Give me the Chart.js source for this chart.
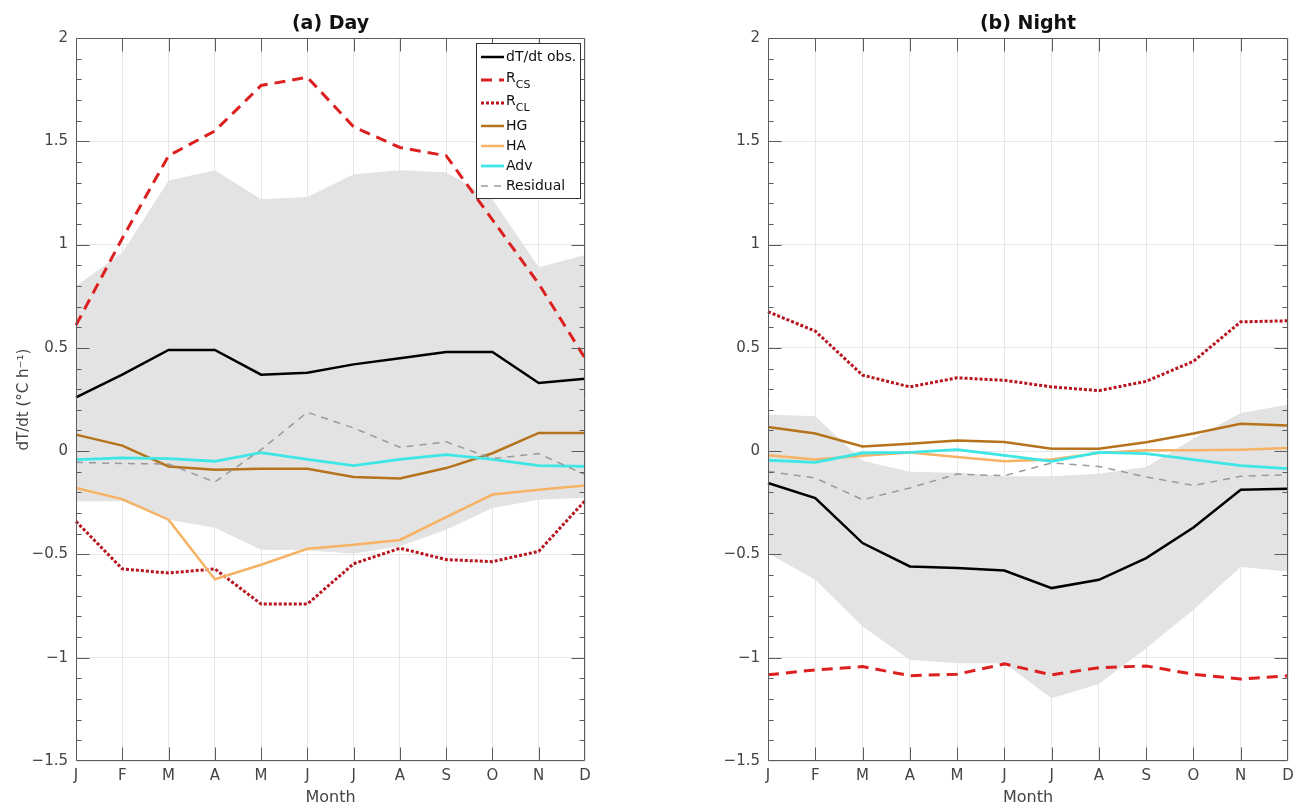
<!DOCTYPE html>
<html>
<head>
<meta charset="utf-8">
<script src="https://cdn.jsdelivr.net/npm/chart.js@4.4.1/dist/chart.umd.min.js"></script>
<style>
  html, body { margin:0; padding:0; background:#fff; }
  #wrap { position:relative; width:1311px; height:811px; overflow:hidden; }
  .cv { position:absolute; top:0; }
</style>
</head>
<body>
<div id="wrap">
  <div class="cv" style="left:0;width:600px;height:811px;"><canvas id="c1"></canvas></div>
  <div class="cv" style="left:700px;width:611px;height:811px;"><canvas id="c2"></canvas></div>
</div>
<script>
// ---------- data ----------
const months = ['J','F','M','A','M','J','J','A','S','O','N','D'];
const yMin = -1.5, yMax = 2, yStep = 0.5;

const dayObs   = [0.26,0.37,0.49,0.49,0.37,0.38,0.42,0.45,0.48,0.48,0.33,0.35];
const dayRcs   = [0.61,1.03,1.43,1.55,1.77,1.81,1.57,1.47,1.43,1.12,0.81,0.45];
const dayRcl   = [-0.34,-0.57,-0.59,-0.57,-0.74,-0.74,-0.545,-0.47,-0.525,-0.535,-0.485,-0.24];
const dayHG    = [0.08,0.027,-0.074,-0.09,-0.085,-0.085,-0.125,-0.132,-0.082,-0.01,0.088,0.088];
const dayHA    = [-0.178,-0.232,-0.332,-0.62,-0.55,-0.473,-0.453,-0.43,-0.32,-0.21,-0.187,-0.166];
const dayAdv   = [-0.041,-0.033,-0.036,-0.049,-0.007,-0.04,-0.07,-0.04,-0.017,-0.04,-0.07,-0.074];
const dayRes   = [-0.054,-0.06,-0.062,-0.15,0.007,0.188,0.112,0.019,0.045,-0.036,-0.012,-0.114];
const dayBandHi = [0.8,0.96,1.31,1.36,1.22,1.23,1.34,1.36,1.35,1.22,0.89,0.95];
const dayBandLo = [-0.243,-0.243,-0.332,-0.371,-0.477,-0.48,-0.497,-0.46,-0.38,-0.275,-0.235,-0.226];

const nightObs   = [-0.154,-0.227,-0.445,-0.558,-0.566,-0.578,-0.663,-0.623,-0.518,-0.37,-0.187,-0.182];
const nightRcs   = [-1.083,-1.059,-1.043,-1.087,-1.08,-1.03,-1.083,-1.048,-1.04,-1.08,-1.103,-1.087];
const nightRcl   = [0.675,0.581,0.368,0.311,0.355,0.343,0.311,0.293,0.338,0.435,0.626,0.631];
const nightHG    = [0.117,0.085,0.023,0.036,0.051,0.044,0.012,0.012,0.043,0.085,0.133,0.124];
const nightHA    = [-0.02,-0.041,-0.022,-0.006,-0.028,-0.049,-0.041,-0.009,0.004,0.004,0.007,0.015];
const nightAdv   = [-0.044,-0.054,-0.009,-0.006,0.007,-0.02,-0.049,-0.006,-0.012,-0.041,-0.07,-0.085];
const nightRes   = [-0.098,-0.13,-0.235,-0.178,-0.111,-0.119,-0.057,-0.074,-0.125,-0.166,-0.122,-0.114];
const nightBandHi = [0.177,0.169,-0.047,-0.1,-0.104,-0.122,-0.122,-0.109,-0.077,0.06,0.185,0.225];
const nightBandLo = [-0.494,-0.623,-0.849,-1.01,-1.027,-1.027,-1.196,-1.127,-0.954,-0.768,-0.561,-0.583];

// ---------- styles ----------
const FONT = "'DejaVu Sans', sans-serif";
const S = {
  obs: {label:'dT/dt obs.', color:'#000000', width:2.5, dash:[]},
  rcs: {label:'R', sub:'CS', color:'#dc1f1f', width:3, dash:[11,7]},
  rcl: {label:'R', sub:'CL', color:'#b8141e', width:3, dash:[3,2]},
  hg:  {label:'HG', color:'#b5731c', width:2.5, dash:[]},
  ha:  {label:'HA', color:'#f6b265', width:2.5, dash:[]},
  adv: {label:'Adv', color:'#3fe6e6', width:2.8, dash:[]},
  res: {label:'Residual', color:'#9a9a9a', width:1.5, dash:[7,6]}
};
const legendOrder = ['obs','rcs','rcl','hg','ha','adv','res'];

function line(key, data) {
  const s = S[key];
  return {label: key, data, borderColor: s.color, borderWidth: s.width, borderDash: s.dash,
          pointRadius:0, fill:false, tension:0, borderCapStyle:'butt', borderJoinStyle:'miter'};
}
function band(hi, lo) {
  return [
    {label:'bandHi', data:hi, borderWidth:0, borderColor:'rgba(0,0,0,0)', backgroundColor:'#e3e3e3', pointRadius:0, fill:'+1', tension:0},
    {label:'bandLo', data:lo, borderWidth:0, borderColor:'rgba(0,0,0,0)', backgroundColor:'#e3e3e3', pointRadius:0, fill:false, tension:0}
  ];
}

function fmt(v) {
  const r = Math.round(v*10)/10;
  if (Math.abs(r) < 1e-9) return '0';
  return (r < 0 ? '\u2212' : '') + String(Math.abs(r));
}

const framePlugin = {
  id: 'frame',
  afterDraw(chart, args, opts) {
    const {ctx, chartArea:a, scales} = chart;
    const x = scales.x, y = scales.y;
    ctx.save();
    // title
    ctx.fillStyle = '#111';
    ctx.font = 'bold 19px ' + FONT;
    ctx.textAlign = 'center'; ctx.textBaseline = 'alphabetic';
    ctx.fillText(opts.title, (a.left + a.right)/2, 29);
    // box
    ctx.strokeStyle = '#5c5c5c'; ctx.lineWidth = 1;
    const L = Math.round(a.left)+0.5, R = Math.round(a.right)-0.5, T = Math.round(a.top)+0.5, B = Math.round(a.bottom)-0.5;
    ctx.beginPath();
    ctx.moveTo(L,T); ctx.lineTo(R,T); ctx.lineTo(R,B); ctx.lineTo(L,B); ctx.closePath();
    ctx.stroke();
    // x ticks (inward, top and bottom)
    ctx.beginPath();
    for (let i = 1; i < months.length-1; i++) {
      const px = Math.round(x.getPixelForValue(i)) + 0.5;
      ctx.moveTo(px, B); ctx.lineTo(px, B-13);
      ctx.moveTo(px, T); ctx.lineTo(px, T+13);
    }
    // y ticks major + minor
    for (let k = 1; k < 35; k++) {
      const v = yMin + k*0.1;
      const py = Math.round(y.getPixelForValue(v)) + 0.5;
      const len = (k % 5 === 0) ? 13 : 5;
      ctx.moveTo(L, py); ctx.lineTo(L+len, py);
      ctx.moveTo(R, py); ctx.lineTo(R-len, py);
    }
    ctx.stroke();
    // legend
    if (opts.legend) {
      const bx = 476.5, by = 43.5, bw = 104, bh = 155;
      ctx.fillStyle = '#fff';
      ctx.fillRect(bx, by, bw, bh);
      ctx.strokeStyle = '#333'; ctx.lineWidth = 1;
      ctx.strokeRect(bx, by, bw, bh);
      const rows = [57, 80, 103, 126, 146, 166, 186];
      legendOrder.forEach((key, i) => {
        const s = S[key];
        const ry = rows[i];
        ctx.save();
        ctx.strokeStyle = s.color; ctx.lineWidth = s.width; ctx.setLineDash(s.dash);
        ctx.beginPath(); ctx.moveTo(481, ry); ctx.lineTo(504, ry); ctx.stroke();
        ctx.restore();
        ctx.fillStyle = '#111';
        ctx.font = '14px ' + FONT;
        ctx.textAlign = 'left'; ctx.textBaseline = 'middle';
        ctx.fillText(s.label, 506, ry - (s.sub ? 2 : 0));
        if (s.sub) {
          const w = ctx.measureText(s.label).width;
          ctx.font = '11px ' + FONT;
          ctx.fillText(s.sub, 506 + w, ry + 5);
        }
      });
    }
    ctx.restore();
  }
};

function makeChart(id, datasets, opts) {
  return new Chart(document.getElementById(id), {
    type: 'line',
    data: { labels: months, datasets },
    plugins: [framePlugin],
    options: {
      responsive: true, maintainAspectRatio: false, animation: false,
      layout: { padding: { top: 38, right: opts.padRight, bottom: 0, left: 0 } },
      plugins: {
        legend: { display:false }, tooltip: { enabled:false }, title: { display:false },
        filler: { drawTime: 'beforeDatasetsDraw' },
        frame: { title: opts.title, legend: opts.legend }
      },
      scales: {
        x: {
          type:'category', offset:false,
          grid: { color:'#e6e6e6', drawTicks:false, lineWidth:1 },
          border: { display:false },
          ticks: { color:'#444', font:{family:FONT, size:15}, padding:6, maxRotation:0, autoSkip:false },
          title: { display:true, text:'Month', color:'#444', font:{family:FONT, size:16}, padding:{top:0,bottom:4} },
          afterFit(s) { s.height = 50; }
        },
        y: {
          min: yMin, max: yMax,
          grid: { color:'#e6e6e6', drawTicks:false, lineWidth:1 },
          border: { display:false },
          ticks: { stepSize: yStep, color:'#444', font:{family:FONT, size:15}, padding:8, callback: (v) => fmt(v) },
          title: { display: opts.yTitle, text:'dT/dt (\u00B0C h\u207B\u00B9)', color:'#444', font:{family:FONT, size:15}, padding:{top:15,bottom:0} },
          afterFit(s) { s.width = opts.yWidth; }
        }
      }
    }
  });
}

makeChart('c1', [
  ...band(dayBandHi, dayBandLo),
  line('res', dayRes), line('adv', dayAdv), line('ha', dayHA), line('hg', dayHG),
  line('rcl', dayRcl), line('rcs', dayRcs), line('obs', dayObs)
], {title:'(a) Day', legend:true, padRight:15, yTitle:true, yWidth:76});

makeChart('c2', [
  ...band(nightBandHi, nightBandLo),
  line('res', nightRes), line('adv', nightAdv), line('ha', nightHA), line('hg', nightHG),
  line('rcl', nightRcl), line('rcs', nightRcs), line('obs', nightObs)
], {title:'(b) Night', legend:false, padRight:23, yTitle:false, yWidth:68});
</script>
</body>
</html>
